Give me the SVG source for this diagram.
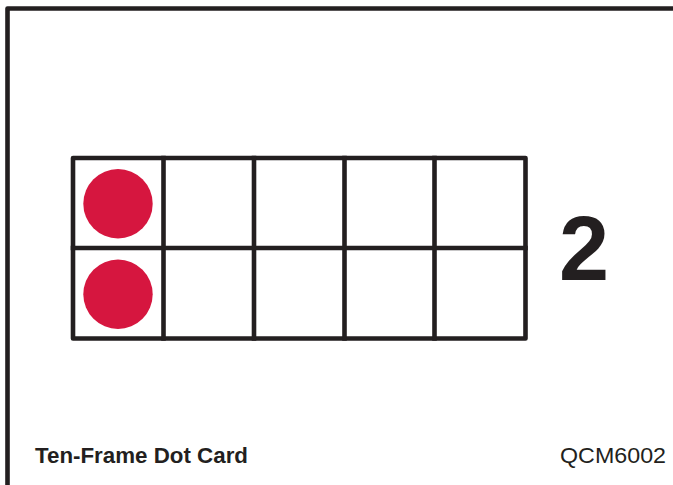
<svg xmlns="http://www.w3.org/2000/svg" width="673" height="485" viewBox="0 0 673 485">
<style>
.ln{fill:none;stroke:#231f20;stroke-width:4.6;stroke-linecap:square;stroke-linejoin:round}
.dot{fill:#d6163f}
.t{font-family:"Liberation Sans",Arial,sans-serif;fill:#231f20}
</style>
<rect width="673" height="485" fill="#ffffff"/>
<g id="border">
<path class="ln" d="M7.5 487 V8.5 H680" stroke-width="5"/>
</g>
<g id="ten-frame">
<rect class="ln" x="73" y="158" width="452.5" height="180.5"/>
<path class="ln" d="M73 248 H525.5 M163.5 158 V338.5 M254 158 V338.5 M344.5 158 V338.5 M434.5 158 V338.5"/>
</g>
<g id="dots">
<circle class="dot" cx="118" cy="203.8" r="34.7"/>
<circle class="dot" cx="118" cy="294.2" r="34.7"/>
</g>
<g id="number">
<text class="t" x="559" y="280" font-size="90" font-weight="bold">2</text>
</g>
<g id="footer">
<text class="t" x="35" y="463" font-size="22.5" font-weight="bold" textLength="213" lengthAdjust="spacingAndGlyphs">Ten-Frame Dot Card</text>
<text class="t" x="560" y="463" font-size="22.5" textLength="106" lengthAdjust="spacingAndGlyphs">QCM6002</text>
</g>
</svg>
